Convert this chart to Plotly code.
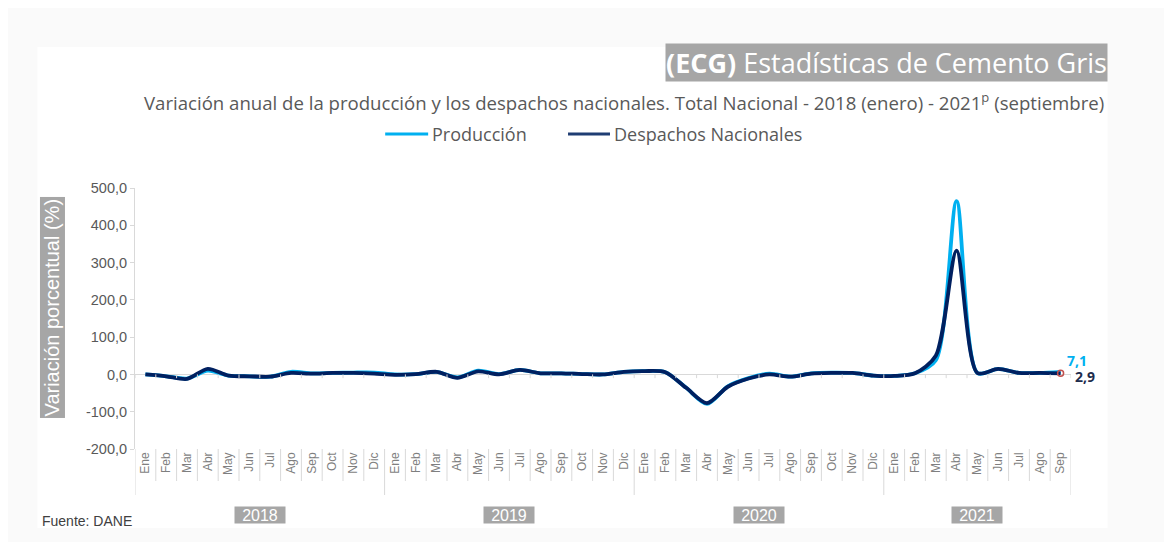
import plotly.graph_objects as go

months = ["Ene", "Feb", "Mar", "Abr", "May", "Jun", "Jul", "Ago", "Sep", "Oct", "Nov", "Dic"]
years = ["2018", "2019", "2020", "2021"]
month_labels = months * 3 + months[:9]
series_names = ["Producción", "Despachos Nacionales"]

produccion = [
    0, -5, -11, 10, -3, -5, -6, 7, 3, 4, 5, 5,
    0, 1, 7, -8, 10, 1, 12, 3, 3, 1, 0, 7,
    9, 6, -36, -79, -32, -10, 2, -6, 3, 5, 4, -3,
    -4, 3, 38, 465, 4, 15, 4, 4, 7.1,
]
despachos = [
    0, -5, -12, 15, -3, -5, -6, 4, 2, 4, 4, 2,
    -1, 1, 7, -9, 8, 0, 12, 3, 3, 1, 0, 7,
    9, 6, -36, -77, -33, -11, 0, -6, 2, 4, 4, -3,
    -4, 3, 50, 332, 4, 15, 4, 4, 2.9,
]
yticks = [-200, -100, 0, 100, 200, 300, 400, 500]
ytick_text = [f"{v:.1f}".replace(".", ",") for v in yticks]

C_PROD = "#00b0f0"
C_DESP = "#002060"
GRAY_BOX = "#a6a6a6"
TXT = "#595959"

OFF = 8  # page body margin
W, H = 1172 - OFF, 542 - OFF
PX0, PX1, PY0, PY1 = 134.6, 1071.4, 188, 449
L, R, T, B = PX0 - OFF, (W + OFF) - PX1, PY0 - OFF, (H + OFF) - PY1
PW, PH = PX1 - PX0, PY1 - PY0


def px(xp):
    return (xp - PX0) / PW


def py(yp):
    return (PY1 - yp) / PH


x = list(range(len(month_labels)))

fig = go.Figure()
fig.add_trace(go.Scatter(x=x, y=produccion, name=series_names[0], mode="lines", showlegend=False,
                         line=dict(color=C_PROD, width=3.8, shape="spline", smoothing=0.8)))
fig.add_trace(go.Scatter(x=x, y=despachos, name=series_names[1], mode="lines", showlegend=False,
                         line=dict(color=C_DESP, width=3.8, shape="spline", smoothing=0.8)))
fig.add_trace(go.Scatter(x=[x[-1]], y=[despachos[-1]], mode="markers", showlegend=False,
                         marker=dict(symbol="circle-open", color="#c0504d", size=6, line=dict(width=1.5)),
                         hoverinfo="skip"))

shapes = []
shapes.append(dict(type="rect", xref="paper", yref="paper", x0=px(37), x1=px(1108), y0=py(528), y1=py(47),
                   fillcolor="white", line=dict(width=0), layer="below"))
n = len(month_labels)
year_bounds = {0, 12, 24, 36, n}
for i in range(n + 1):
    long = i in year_bounds
    shapes.append(dict(type="line", xref="x", yref="paper", x0=i - 0.5, x1=i - 0.5,
                       y0=0, y1=py(495 if long else 481), line=dict(color="#d9d9d9", width=1)))
    shapes.append(dict(type="line", xref="x", yref="y", x0=i - 0.5, x1=i - 0.5,
                       y0=0, y1=-10, line=dict(color="#d9d9d9", width=1)))

annotations = []
# manual legend
legend_items = [(series_names[0], C_PROD, 385, 428), (series_names[1], "#1f3d73", 568, 610)]
for name, col, lx0, lx1 in legend_items:
    shapes.append(dict(type="line", xref="paper", yref="paper", x0=px(lx0), x1=px(lx1), y0=py(134), y1=py(134),
                       line=dict(color=col, width=3)))
    annotations.append(dict(xref="paper", yref="paper", x=px(lx1 + 2), y=py(134), xanchor="left", yanchor="middle",
                            text=name, showarrow=False, font=dict(family="Open Sans", size=18, color=TXT)))

annotations.append(dict(xref="paper", yref="paper", x=px(1108), y=py(63), xanchor="right", yanchor="middle",
                        text="<b>(ECG)</b> Estadísticas de Cemento Gris", showarrow=False,
                        font=dict(family="Open Sans", size=27, color="white"),
                        bgcolor=GRAY_BOX, borderpad=0))
annotations.append(dict(xref="paper", yref="paper", x=px(1106), y=py(101), xanchor="right", yanchor="middle",
                        text="Variación anual de la producción y los despachos nacionales. Total Nacional - 2018 (enero) - 2021<sup>p</sup> (septiembre)",
                        showarrow=False, font=dict(family="Open Sans", size=18.6, color=TXT)))
annotations.append(dict(xref="paper", yref="paper", x=px(52), y=py(307), xanchor="center", yanchor="middle",
                        text="Variación porcentual (%)", textangle=-90, showarrow=False,
                        font=dict(family="Liberation Sans", size=20, color="white"),
                        bgcolor=GRAY_BOX, borderpad=1))
annotations.append(dict(xref="paper", yref="paper", x=px(40), y=py(521), xanchor="left", yanchor="middle",
                        text="Fuente: DANE", showarrow=False,
                        font=dict(family="Liberation Sans", size=14, color="#404040")))
year_centers = [5.5, 17.5, 29.5, 40]
for yr, cx in zip(years, year_centers):
    annotations.append(dict(xref="x", yref="paper", x=cx, y=py(515), xanchor="center", yanchor="middle",
                            text=yr, showarrow=False, width=50, height=16,
                            font=dict(family="Liberation Sans", size=16, color="white"),
                            bgcolor=GRAY_BOX, borderpad=0))
annotations.append(dict(xref="x", yref="y", x=x[-1], y=produccion[-1], text="<b>7,1</b>", showarrow=False,
                        xanchor="center", yanchor="middle", xshift=16, yshift=11,
                        font=dict(family="Open Sans", size=14, color=C_PROD)))
annotations.append(dict(xref="x", yref="y", x=x[-1], y=despachos[-1], text="<b>2,9</b>", showarrow=False,
                        xanchor="center", yanchor="middle", xshift=24, yshift=-3,
                        font=dict(family="Open Sans", size=14, color="#1f2d4d")))

fig.update_layout(
    width=W, height=H,
    margin=dict(l=L, r=R, t=T, b=B, pad=0),
    paper_bgcolor="#fafafa", plot_bgcolor="rgba(0,0,0,0)",
    showlegend=False,
    xaxis=dict(range=[-0.5, n - 0.5], tickmode="array", tickvals=x, ticktext=month_labels,
               tickangle=-90, showgrid=False, zeroline=False, showline=False, ticks="",
               tickfont=dict(family="Liberation Sans", size=12, color="#7f7f7f")),
    yaxis=dict(range=[-200, 500], tickmode="array", tickvals=yticks, ticktext=ytick_text,
               showgrid=False, zeroline=True, zerolinecolor="#d9d9d9", zerolinewidth=1,
               showline=True, linecolor="#d9d9d9", linewidth=1, ticks="outside", ticklen=4,
               tickcolor="#d9d9d9",
               tickfont=dict(family="Liberation Sans", size=14.5, color=TXT)),
    shapes=shapes, annotations=annotations,
)

fig.write_html("out.html")
